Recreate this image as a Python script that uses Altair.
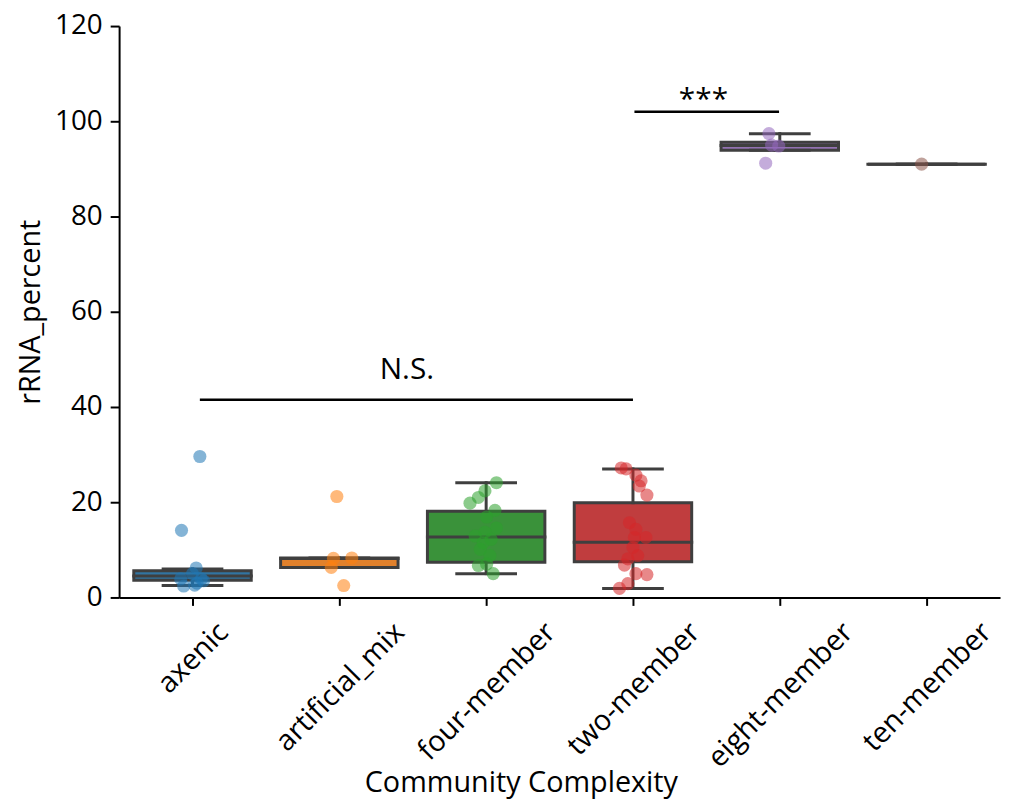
import json
import altair as alt
import pandas as pd

# ---------------- data ----------------
categories = ["axenic", "artificial_mix", "four-member", "two-member", "eight-member", "ten-member"]

box_colors = ["#3274a1", "#e1812c", "#3a923a", "#c03d3e", "#9372b2", "#845b53"]
point_colors = ["#1f77b4", "#ff7f0e", "#2ca02c", "#d62728", "#9467bd", "#8c564b"]

axenic_vals = [29.6, 14.1, 6.2, 5.0, 3.9, 3.9, 3.5, 2.4, 2.6, 3.0]
axenic_jit = [0.05, -0.075, 0.025, 0.0, -0.08, 0.06, 0.075, -0.06, 0.015, 0.03]

artificial_vals = [21.2, 8.2, 8.3, 6.3, 2.5]
artificial_jit = [-0.017, -0.04, 0.085, -0.055, 0.03]

four_vals = [24.1, 22.4, 21.0, 19.8, 18.3, 16.9, 14.6, 13.7, 12.9, 12.2, 11.5, 10.1, 8.8, 7.0, 6.7, 5.0]
four_jit = [0.07, -0.008, -0.053, -0.11, 0.06, 0.003, 0.07, -0.008, -0.075, 0.034, -0.02, -0.04, 0.026, 0.003, -0.053, 0.048]

two_vals = [27.2, 27.0, 25.7, 24.5, 23.4, 21.5, 15.7, 14.3, 12.6, 12.6, 10.5, 8.8, 8.1, 6.8, 5.0, 4.8, 2.9, 1.9]
two_jit = [-0.08, -0.047, 0.02, 0.055, 0.043, 0.095, -0.024, 0.02, 0.088, 0.01, 0.0, 0.032, -0.035, -0.058, 0.02, 0.095, -0.035, -0.092]

eight_vals = [97.4, 95.0, 94.8, 91.2]
eight_jit = [-0.074, -0.056, -0.007, -0.096]

ten_vals = [91.0]
ten_jit = [-0.034]

# box statistics
box_q1 = [3.6, 6.3, 7.4, 7.5, 93.9, 91.0]
box_med = [4.5, 8.2, 12.7, 11.6, 94.9, 91.0]
box_q3 = [5.6, 8.3, 18.1, 19.9, 95.6, 91.0]
box_lo = [2.5, 6.3, 5.0, 1.9, 93.9, 91.0]
box_hi = [6.0, 8.3, 24.1, 27.0, 97.4, 91.0]

# significance annotations
sig_x1 = [0.05, 3.01]
sig_x2 = [3.0, 3.995]
sig_y = [41.5, 102.0]
sig_label = ["N.S.", "***"]
sig_text_x = [1.46, 3.48]
sig_text_y = [45.9, 102.6]

y_ticks = [0, 20, 40, 60, 80, 100, 120]

# ---------------- tables ----------------
groups = [axenic_vals, artificial_vals, four_vals, two_vals, eight_vals, ten_vals]
jits = [axenic_jit, artificial_jit, four_jit, two_jit, eight_jit, ten_jit]
rows = []
for i, (vals, jj) in enumerate(zip(groups, jits)):
    for v, j in zip(vals, jj):
        rows.append({"cat": categories[i], "idx": i, "value": v, "jit": j})
pts = pd.DataFrame(rows)

box = pd.DataFrame({
    "cat": categories, "idx": list(range(len(categories))),
    "q1": box_q1, "med": box_med, "q3": box_q3, "lo": box_lo, "hi": box_hi,
})

sig = pd.DataFrame({"x1": sig_x1, "x2": sig_x2, "y": sig_y})
sig_t = pd.DataFrame({"tx": sig_text_x, "ty": sig_text_y, "label": sig_label})

# ---------------- styling ----------------
FONT = "Open Sans"
TICK_FS = 28
XTICK_FS = 29
TITLE_FS = 29
GRAY = "#3f3f3f"

# approximate glyph advance widths (em) to offset rotated labels like matplotlib's centred ones
adv = {"a": .556, "b": .613, "c": .48, "d": .613, "e": .561, "f": .336, "g": .546, "h": .614,
       "i": .258, "l": .258, "m": .933, "n": .614, "o": .601, "r": .409, "t": .352, "u": .614,
       "w": .798, "x": .519, "_": .432, "-": .322, "s": .461}
offsets = [round(0.354 * sum(adv.get(ch, .55) for ch in c) * XTICK_FS, 1) for c in categories]

x_axis = alt.Axis(
    values=list(range(len(categories))),
    labelExpr=f"{json.dumps(categories)}[datum.value]",
    labelAngle=-45, labelAlign="right", labelBaseline="middle",
    labelOffset={"expr": f"{json.dumps(offsets)}[datum.value]"},
    labelPadding=22, labelOverlap=False, labelLimit=0, labelBound=False,
    labelFont=FONT, labelFontSize=XTICK_FS, labelColor="black",
    tickSize=8, tickWidth=2, tickColor="black",
    domainColor="black", domainWidth=2, grid=False,
    title="Community Complexity", titleFont=FONT, titleFontSize=TITLE_FS,
    titleFontWeight="normal", titleColor="black",
    titleX=405, titleY=196, titleBaseline="alphabetic", titleAnchor="middle", titleAlign="center",
)
y_axis = alt.Axis(
    values=y_ticks, labelFont=FONT, labelFontSize=TICK_FS, labelColor="black", labelPadding=8,
    tickSize=9, tickWidth=2, tickColor="black", domainColor="black", domainWidth=2, grid=False,
    title="rRNA_percent", titleFont=FONT, titleFontSize=TITLE_FS, titleFontWeight="normal",
    titleColor="black", titlePadding=9,
)

xs = alt.Scale(domain=[-0.5, len(categories) - 0.5], nice=False, zero=False)
ys = alt.Scale(domain=[0, 120], nice=False)


def X(field):
    return alt.X(f"{field}:Q", scale=xs, axis=x_axis)


def Y(field):
    return alt.Y(f"{field}:Q", scale=ys, axis=y_axis)


base_box = alt.Chart(box).transform_calculate(
    bx1="datum.idx - 0.4", bx2="datum.idx + 0.4",
    cx1="datum.idx - 0.2", cx2="datum.idx + 0.2",
)

rect = base_box.mark_rect(stroke=GRAY, strokeWidth=3).encode(
    x=X("bx1"), x2="bx2:Q", y=Y("q1"), y2="q3:Q",
    fill=alt.Fill("cat:N", scale=alt.Scale(domain=categories, range=box_colors), legend=None),
)
whisk_lo = base_box.mark_rule(color=GRAY, strokeWidth=3, strokeCap="square").encode(
    x=X("idx"), y=Y("lo"), y2="q1:Q")
whisk_hi = base_box.mark_rule(color=GRAY, strokeWidth=3, strokeCap="square").encode(
    x=X("idx"), y=Y("q3"), y2="hi:Q")
cap_lo = base_box.mark_rule(color=GRAY, strokeWidth=3, strokeCap="square").encode(
    x=X("cx1"), x2="cx2:Q", y=Y("lo"))
cap_hi = base_box.mark_rule(color=GRAY, strokeWidth=3, strokeCap="square").encode(
    x=X("cx1"), x2="cx2:Q", y=Y("hi"))
median = base_box.mark_rule(color=GRAY, strokeWidth=3, strokeCap="square").encode(
    x=X("bx1"), x2="bx2:Q", y=Y("med"))

points = alt.Chart(pts).transform_calculate(px="datum.idx + datum.jit").mark_circle(
    size=175, opacity=0.55, strokeWidth=0
).encode(
    x=X("px"), y=Y("value"),
    color=alt.Color("cat:N", scale=alt.Scale(domain=categories, range=point_colors), legend=None),
)

sig_lines = alt.Chart(sig).mark_rule(color="black", strokeWidth=2.5).encode(
    x=X("x1"), x2="x2:Q", y=Y("y"))
sig_texts = alt.Chart(sig_t).mark_text(
    font=FONT, fontSize=30, color="black", align="center", baseline="alphabetic"
).encode(x=X("tx"), y=Y("ty"), text="label:N")

chart = alt.layer(
    rect, whisk_lo, whisk_hi, cap_lo, cap_hi, median, points, sig_lines, sig_texts
).properties(
    width=888, height=576,
    autosize=alt.AutoSizeParams(type="none"),
    padding={"left": 112, "top": 15, "right": 2, "bottom": 205},
).configure(background="white").configure_view(stroke=None)

chart.save("out.html", embed_options={"renderer": "svg", "actions": False})
